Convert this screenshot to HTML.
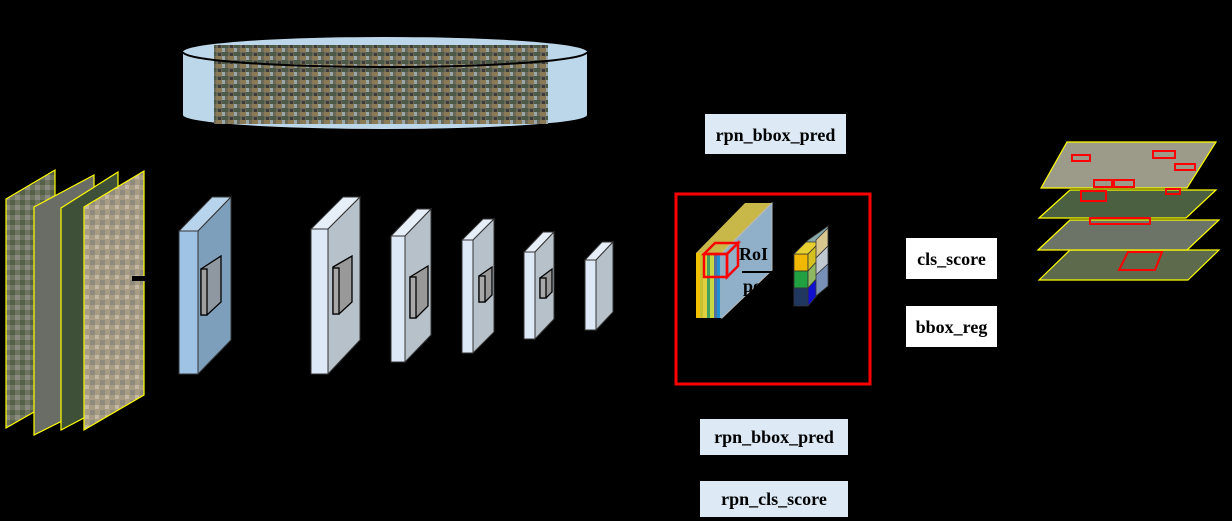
<!DOCTYPE html>
<html><head><meta charset="utf-8"><style>
html,body{margin:0;padding:0;background:#000;}
svg{display:block;}
.l{font-family:"Liberation Serif",serif;font-weight:bold;font-size:18px;fill:#000;}
</style></head><body>
<svg width="1232" height="521" viewBox="0 0 1232 521" xmlns="http://www.w3.org/2000/svg">
<defs>
<pattern id="mos" width="12" height="8" patternUnits="userSpaceOnUse">
<rect width="12" height="8" fill="#6b6a5a"/><rect x="0" y="0" width="6" height="4" fill="#8a7a55"/><rect x="6" y="4" width="6" height="4" fill="#4d5a48"/><rect x="6" y="0" width="3" height="4" fill="#9aa6a8"/><rect x="2" y="5" width="3" height="3" fill="#3d3c3a"/>
</pattern>
<pattern id="aer" width="10" height="10" patternUnits="userSpaceOnUse">
<rect width="10" height="10" fill="#6f7460"/><rect x="0" y="0" width="5" height="5" fill="#556048"/><rect x="5" y="5" width="5" height="5" fill="#8a8a80"/>
</pattern>
<pattern id="aer2" width="10" height="10" patternUnits="userSpaceOnUse">
<rect width="10" height="10" fill="#a89c85"/><rect x="0" y="0" width="5" height="5" fill="#8e8a7d"/><rect x="5" y="5" width="4" height="4" fill="#c2b8a4"/>
</pattern>
</defs>
<path d="M183 52 L183 115 A202 14 0 0 0 587 115 L587 52 Z" fill="#bdd7ea"/>
<ellipse cx="385" cy="52" rx="202" ry="15" fill="#bdd7ea"/>
<rect x="214" y="45" width="334" height="79" fill="url(#mos)"/>
<path d="M183 52 A202 15 0 0 0 587 52" fill="none" stroke="#000" stroke-width="2"/>
<g stroke="#ff0" stroke-width="1.2">
<polygon points="6,199 55,170 55,400 6,428" fill="url(#aer)"/>
<polygon points="34,207 94,175 94,405 34,435" fill="#6a6c66"/>
<polygon points="61,208 118,172 118,400 61,430" fill="#3f5038"/>
<polygon points="84,207 144,171 144,395 84,430" fill="url(#aer2)"/>
</g>
<rect x="132" y="276" width="14" height="5" fill="#000"/>
<g stroke="#333" stroke-width="1">
<polygon points="179,231 198,231 231,197 212,197" fill="#b8d4ec"/>
<polygon points="198,231 231,197 231,340 198,374" fill="#7e9fbc"/>
<rect x="179" y="231" width="19" height="143" fill="#9fc3e4"/>
<polygon points="311,229 328,229 360,197 343,197" fill="#e6eef8"/>
<polygon points="328,229 360,197 360,340 328,374" fill="#b7c1ca"/>
<rect x="311" y="229" width="17" height="145" fill="#dde9f6"/>
<polygon points="391,236 405,236 431,209 417,209" fill="#e6eef8"/>
<polygon points="405,236 431,209 431,335 405,362" fill="#b7c1ca"/>
<rect x="391" y="236" width="14" height="126" fill="#dde9f6"/>
<polygon points="462,240 473,240 494,219 483,219" fill="#e6eef8"/>
<polygon points="473,240 494,219 494,332 473,353" fill="#b7c1ca"/>
<rect x="462" y="240" width="11" height="113" fill="#dde9f6"/>
<polygon points="524,252 535,252 554,232 543,232" fill="#e6eef8"/>
<polygon points="535,252 554,232 554,319 535,339" fill="#b7c1ca"/>
<rect x="524" y="252" width="11" height="87" fill="#dde9f6"/>
<polygon points="585,260 596,260 613,242 602,242" fill="#e6eef8"/>
<polygon points="596,260 613,242 613,312 596,330" fill="#b7c1ca"/>
<rect x="585" y="260" width="11" height="70" fill="#dde9f6"/>
</g>
<g stroke="#000" stroke-width="1.3">
<polygon points="201,269 221,256 221,302 207,315 201,315" fill="#8f98a0"/><rect x="201" y="269" width="6" height="46" fill="#a0a0a0"/>
<polygon points="333,267 352,256 352,302 339,314 333,314" fill="#999"/><rect x="333" y="268" width="6" height="46" fill="#a8a8a8"/>
<polygon points="410,277 428,266 428,306 416,318 410,318" fill="#999"/><rect x="410" y="277" width="6" height="41" fill="#a8a8a8"/>
<polygon points="479,276 492,267 492,295 485,302 479,302" fill="#999"/><rect x="479" y="276" width="6" height="26" fill="#a8a8a8"/>
<polygon points="540,278 552,269 552,292 546,298 540,298" fill="#999"/><rect x="540" y="278" width="6" height="20" fill="#a8a8a8"/>
</g>
<rect x="676" y="194" width="194" height="190" fill="none" stroke="#f00" stroke-width="3"/>
<polygon points="696,253 745,203 772,203 722,253" fill="#c8b84a"/>
<polygon points="722,253 772,203 772,270 722,318" fill="#8fb0c8" stroke="#bbb"/>
<g>
<rect x="696" y="253" width="4" height="65" fill="#f2c200"/><rect x="700" y="253" width="3" height="65" fill="#c8c030"/>
<rect x="703" y="253" width="4" height="65" fill="#e0d040"/><rect x="707" y="253" width="3" height="65" fill="#40a060"/>
<rect x="710" y="253" width="4" height="65" fill="#c8d840"/><rect x="714" y="253" width="3" height="65" fill="#5070a0"/>
<rect x="717" y="253" width="3" height="65" fill="#2090d0"/><rect x="720" y="253" width="3" height="65" fill="#90b0c8"/>
</g>
<g stroke="#f00" stroke-width="2.5" fill="none">
<rect x="704" y="254" width="23" height="23"/><polygon points="704,254 715,243 738,243 727,254"/><polygon points="727,254 738,243 738,266 727,277"/>
</g>
<text x="739" y="260" class="l" style="font-size:18px">RoI</text>
<line x1="742" y1="272" x2="772" y2="272" stroke="#000" stroke-width="2"/>
<text x="743" y="292" class="l" style="font-size:18px">po</text>
<g stroke="#333" stroke-width="0.8">
<polygon points="794,254 808,240 828,226 828,286 808,300 794,306" fill="#8aa"/>
<rect x="794" y="254" width="14" height="17" fill="#f0b800"/><polygon points="794,254 806,242 820,242 808,254" fill="#e8d030"/>
<polygon points="808,254 820,242 820,258 808,271" fill="#d4c020"/>
<polygon points="816,240 828,228 828,246 816,258" fill="#d8c890"/>
<rect x="794" y="271" width="14" height="17" fill="#20a040"/><polygon points="808,271 820,258 820,275 808,288" fill="#90b860"/>
<polygon points="816,258 828,246 828,264 816,275" fill="#c0c8d0"/>
<rect x="794" y="288" width="14" height="18" fill="#203860"/><polygon points="808,288 820,275 820,292 808,306" fill="#1010d0"/>
<polygon points="816,275 828,264 828,286 816,296" fill="#7890b8"/>
</g>
<rect x="705" y="114" width="141" height="40" fill="#ddeaf6"/><text x="775.5" y="141" class="l" text-anchor="middle">rpn_bbox_pred</text>
<rect x="906" y="238" width="91" height="41" fill="#fff"/><text x="951.5" y="265" class="l" text-anchor="middle">cls_score</text>
<rect x="906" y="306" width="91" height="41" fill="#fff"/><text x="951.5" y="333" class="l" text-anchor="middle">bbox_reg</text>
<rect x="700" y="419" width="148" height="36" fill="#ddeaf6"/><text x="774" y="443" class="l" text-anchor="middle">rpn_bbox_pred</text>
<rect x="700" y="481" width="148" height="36" fill="#ddeaf6"/><text x="774" y="505" class="l" text-anchor="middle">rpn_cls_score</text>
<g stroke="#ff0" stroke-width="1.2">
<polygon points="1039,280 1070,250 1219,250 1188,280" fill="#5d6a4c"/>
<polygon points="1038,250 1070,220 1219,220 1187,250" fill="#6c7468"/>
<polygon points="1039,218 1070,190 1216,190 1186,218" fill="#4a6040"/>
<polygon points="1041,188 1067,142 1216,142 1187,188" fill="#9c9a88"/>
</g>
<g stroke="#f00" stroke-width="2" fill="none">
<rect x="1072" y="155" width="18" height="6"/><rect x="1153" y="151" width="22" height="7"/><rect x="1175" y="164" width="20" height="6"/>
<rect x="1094" y="180" width="18" height="7"/><rect x="1114" y="180" width="20" height="7"/><rect x="1081" y="191" width="25" height="10"/>
<rect x="1166" y="189" width="14" height="5"/><rect x="1090" y="218" width="60" height="6"/><polygon points="1128,252 1162,252 1155,270 1119,270"/>
</g>
</svg>
</body></html>
